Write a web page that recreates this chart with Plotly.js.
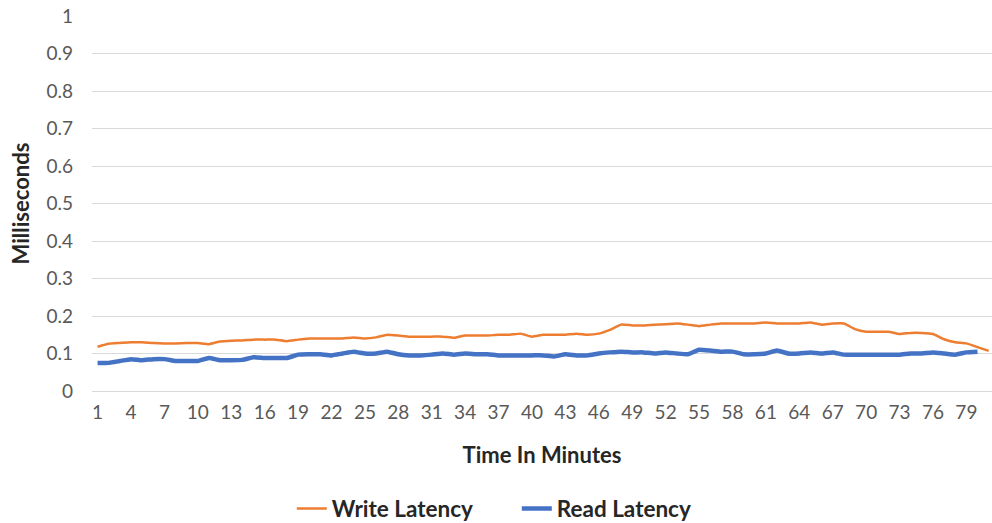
<!DOCTYPE html>
<html>
<head>
<meta charset="utf-8">
<script src="https://cdn.plot.ly/plotly-3.0.1.min.js"></script>
<style>
html,body{margin:0;padding:0;background:#fff;}
#chart{width:992px;height:523px;}
</style>
</head>
<body>
<div id="chart"></div>
<script>
var minutesWrite = [];
for (var i = 1; i <= 81; i++) minutesWrite.push(i);
var minutesRead = minutesWrite.slice(0, 80);

var writeLatency = [
  0.118, 0.126, 0.128, 0.130, 0.130, 0.128, 0.127, 0.127, 0.128, 0.128,
  0.125, 0.132, 0.134, 0.135, 0.137, 0.137, 0.137, 0.133, 0.137, 0.140,
  0.140, 0.140, 0.140, 0.143, 0.140, 0.143, 0.150, 0.148, 0.145, 0.145,
  0.145, 0.145, 0.142, 0.148, 0.148, 0.148, 0.150, 0.150, 0.153, 0.145,
  0.150, 0.150, 0.150, 0.153, 0.150, 0.153, 0.163, 0.177, 0.175, 0.175,
  0.177, 0.178, 0.180, 0.177, 0.173, 0.177, 0.180, 0.180, 0.180, 0.180,
  0.183, 0.180, 0.180, 0.180, 0.183, 0.177, 0.180, 0.180, 0.165, 0.158,
  0.158, 0.158, 0.152, 0.155, 0.155, 0.152, 0.138, 0.130, 0.127, 0.117,
  0.107
];

var readLatency = [
  0.075, 0.075, 0.080, 0.085, 0.082, 0.085, 0.085, 0.080, 0.080, 0.080,
  0.088, 0.082, 0.082, 0.083, 0.090, 0.088, 0.088, 0.088, 0.097, 0.098,
  0.098, 0.095, 0.100, 0.105, 0.100, 0.100, 0.105, 0.098, 0.095, 0.095,
  0.097, 0.100, 0.097, 0.100, 0.098, 0.098, 0.095, 0.095, 0.095, 0.095,
  0.095, 0.092, 0.098, 0.095, 0.095, 0.100, 0.103, 0.105, 0.103, 0.103,
  0.100, 0.103, 0.100, 0.098, 0.110, 0.108, 0.105, 0.105, 0.098, 0.098,
  0.100, 0.108, 0.100, 0.100, 0.103, 0.100, 0.103, 0.097, 0.097, 0.097,
  0.097, 0.097, 0.097, 0.100, 0.100, 0.103, 0.100, 0.097, 0.103, 0.105
];

var xTicks = [];
for (var t = 1; t <= 79; t += 3) xTicks.push(t);
var yTicks = [0, 0.1, 0.2, 0.3, 0.4, 0.5, 0.6, 0.7, 0.8, 0.9, 1];
var yTickText = ['0', '0.1', '0.2', '0.3', '0.4', '0.5', '0.6', '0.7', '0.8', '0.9', '1'];

var FONT = 'Lato, "Open Sans", sans-serif';

var traces = [
  {
    x: minutesWrite, y: writeLatency, type: 'scatter', mode: 'lines',
    name: 'Write Latency',
    line: {color: '#ed7d31', width: 2.5, shape: 'spline', smoothing: 0.4}
  },
  {
    x: minutesRead, y: readLatency, type: 'scatter', mode: 'lines',
    name: 'Read Latency',
    line: {color: '#4472c4', width: 4.5, shape: 'spline', smoothing: 0.4}
  }
];

var layout = {
  width: 992, height: 523,
  paper_bgcolor: '#ffffff', plot_bgcolor: '#ffffff',
  margin: {l: 92, r: 0, t: 16, b: 132, autoexpand: false},
  font: {family: FONT, color: '#595959', size: 20},
  showlegend: true,
  legend: {
    orientation: 'h', xref: 'paper', x: 0.472, xanchor: 'center',
    yref: 'container', y: 0.027, yanchor: 'middle',
    font: {family: FONT, size: 22.5, color: '#262626', weight: 'bold'},
    entrywidth: 180, entrywidthmode: 'pixels', traceorder: 'normal'
  },
  xaxis: {
    range: [0.5, 81.3],
    tickmode: 'array', tickvals: xTicks, ticktext: xTicks.map(String),
    showgrid: false, zeroline: false,
    showline: true, linecolor: '#d9d9d9', linewidth: 1,
    ticks: '', tickfont: {family: FONT, size: 19, color: '#595959'},
    ticklabelstandoff: 4,
    title: {text: 'Time In Minutes', font: {family: FONT, size: 22, color: '#262626', weight: 'bold'}, standoff: 25}
  },
  yaxis: {
    range: [0, 1],
    tickmode: 'array', tickvals: yTicks, ticktext: yTickText,
    showgrid: true, gridcolor: '#d9d9d9', gridwidth: 1,
    zeroline: false, showline: false, ticks: '',
    tickfont: {family: FONT, size: 19, color: '#595959'},
    ticklabelstandoff: 18,
    title: {text: 'Milliseconds', font: {family: FONT, size: 22, color: '#262626', weight: 'bold'}, standoff: 10}
  }
};

Plotly.newPlot('chart', traces, layout, {displayModeBar: false, staticPlot: true});
</script>
</body>
</html>
